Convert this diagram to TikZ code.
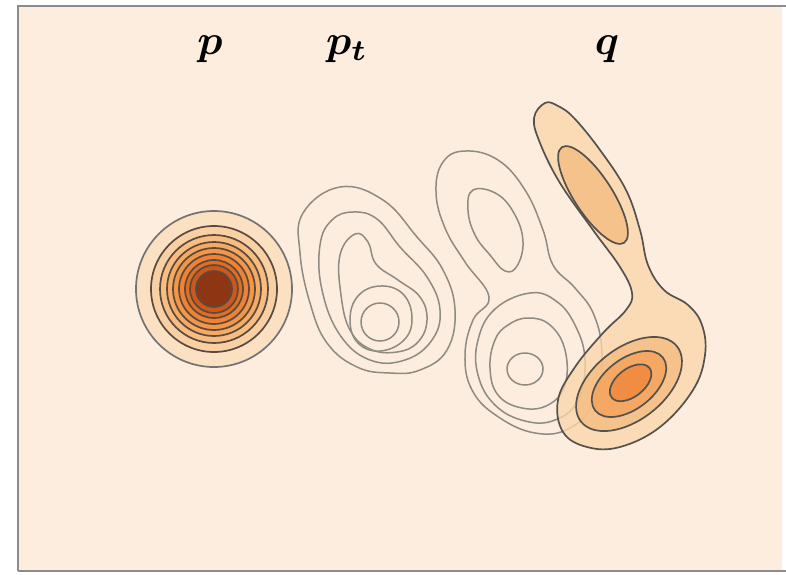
\documentclass[tikz,border=0pt]{standalone}
\usepackage{bm}
\definecolor{bg}{HTML}{FCEDDF}
\definecolor{frame}{HTML}{8C8C8C}
\definecolor{gline}{HTML}{8F8A82}
\definecolor{pline}{HTML}{5A4A40}
\definecolor{qline}{HTML}{55524E}
\definecolor{pc1}{HTML}{FBE0C2}
\definecolor{pc2}{HTML}{F9D0A4}
\definecolor{pc3}{HTML}{F8BD80}
\definecolor{pc4}{HTML}{F6AA62}
\definecolor{pc5}{HTML}{F39648}
\definecolor{pc6}{HTML}{EF8333}
\definecolor{pc7}{HTML}{E26E22}
\definecolor{pc8}{HTML}{CC581A}
\definecolor{pc9}{HTML}{8E3613}
\definecolor{qc1}{HTML}{FAD6AA}
\definecolor{qc2}{HTML}{F6BB80}
\definecolor{qc3}{HTML}{F4A158}
\definecolor{qc4}{HTML}{F0863A}
\begin{document}
\begin{tikzpicture}[x=1pt,y=-1pt,
  gcont/.style={draw=gline, line width=1.5pt},
  pring/.style={draw=pline, line width=1.7pt},
  qring/.style={draw=qline, line width=1.7pt, fill opacity=0.78},
  lab/.style={font=\normalsize, scale=4.2, anchor=base, inner sep=0pt}]
\useasboundingbox (0,0) rectangle (786,574);
\fill[white] (0,0) rectangle (786,574);
\fill[bg] (18,6) rectangle (782,571);
\draw[frame, line width=2pt] (18,571) -- (18,6) -- (786,6);
\draw[frame, line width=2pt] (18,571) -- (786,571);

% labels
\node[lab] (lp) at (210,54) {$\bm{p}$};
\node[lab] (lpt) at (347,54) {$\bm{p_t}$};
\node[lab] (lq) at (607,54) {$\bm{q}$};

% p : concentric rings
\draw[pring, draw=gray!90!black, fill=pc1] (214,289) circle [radius=78];
\draw[pring, fill=pc2] (214,289) circle [radius=63];
\draw[pring, fill=pc3] (214,289) circle [radius=54];
\draw[pring, fill=pc4] (214,289) circle [radius=47];
\draw[pring, fill=pc5] (214,289) circle [radius=41];
\draw[pring, fill=pc6] (214,289) circle [radius=35];
\draw[pring, fill=pc7] (214,289) circle [radius=29];
\draw[pring, fill=pc8] (214,289) circle [radius=24];
\draw[pring, fill=pc9] (214,289) circle [radius=18];

% p_t contours
\draw[gcont] plot[smooth cycle, tension=0.7] coordinates {(340,187) (383,200) (417,237) (443,270) (455,310) (447,350) (420,370) (390,373) (357,367) (327,343) (310,303) (300,253) (303,213)};
\draw[gcont] plot[smooth cycle, tension=0.7] coordinates {(353,212) (377,219) (400,247) (427,277) (440,310) (432,340) (405,360) (370,360) (340,335) (322,290) (320,245) (332,220)};
\draw[gcont] plot[smooth cycle, tension=0.7] coordinates {(355,234) (368,242) (376,264) (398,280) (420,297) (427,320) (418,342) (397,352) (370,349) (350,330) (341,295) (340,255)};
\draw[gcont] plot[smooth cycle, tension=0.7] coordinates {(350,320) (358,296) (380,286) (403,294) (412,318) (404,340) (380,351) (358,343)};
\draw[gcont] (380,322) circle [radius=19];

% middle contours
\draw[gcont] plot[smooth cycle, tension=0.7] coordinates {(465,151) (498,160) (525,190) (543,230) (553,265) (575,288) (594,315) (602,355) (595,400) (570,428) (535,433) (497,416) (472,390) (465,355) (473,320) (489,297) (465,262) (445,228) (436,192) (443,162)};
\draw[gcont] plot[smooth cycle, tension=0.7] coordinates {(473,190) (497,194) (515,215) (523,242) (517,266) (505,271) (490,255) (475,235) (468,210)};
\draw[gcont] plot[smooth cycle, tension=0.7] coordinates {(530,293) (556,301) (575,325) (585,360) (578,400) (555,420) (525,421) (495,405) (478,375) (478,340) (495,309)};
\draw[gcont] plot[smooth cycle, tension=0.7] coordinates {(528,318) (550,325) (565,350) (565,385) (548,405) (522,408) (498,395) (490,368) (495,340) (508,325)};
\draw[gcont] (525,369) ellipse [x radius=18, y radius=16];

% q
\draw[qring, fill=qc1] plot[smooth cycle, tension=0.65] coordinates {(545,103) (558,106) (574,118) (600,150) (626,190) (640,230) (648,265) (664,290) (688,305) (702,325) (705,355) (693,390) (660,427) (620,447) (587,447) (563,432) (558,400) (575,367) (603,333) (626,310) (632,293) (620,267) (593,230) (560,183) (540,143) (534,118)};
\begin{scope}[shift={(593,195)}, rotate=-57]
\draw[qring, fill=qc2] (0,0) ellipse [x radius=57, y radius=19];
\end{scope}
\begin{scope}[shift={(629,384)}, rotate=38]
\draw[qring, fill=qc2] (0,0) ellipse [x radius=61, y radius=36];
\draw[qring, fill=qc3] (0,0) ellipse [x radius=43, y radius=25];
\draw[qring, fill=qc4] (2,0) ellipse [x radius=24, y radius=14];
\end{scope}
\end{tikzpicture}
\end{document}
